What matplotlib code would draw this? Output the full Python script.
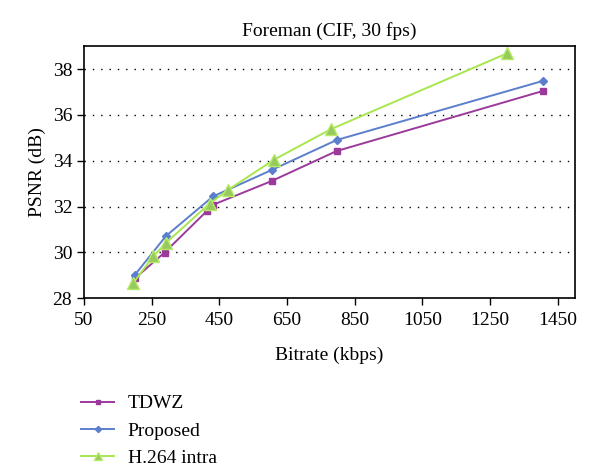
import matplotlib
matplotlib.use("Agg")
from matplotlib import pyplot as plt

# values
tdwz_rate = [200, 288, 412, 432, 604, 796, 1405]
tdwz_psnr = [28.86, 29.99, 31.79, 32.08, 33.11, 34.42, 37.04]

prop_rate = [201, 292, 431, 604, 796, 1405]
prop_psnr = [29.03, 30.71, 32.44, 33.59, 34.90, 37.48]

h264_rate = [196, 255, 293, 421, 475, 612, 780, 1299]
h264_psnr = [28.67, 29.83, 30.42, 32.13, 32.72, 34.05, 35.38, 38.68]

x_ticks = [50, 250, 450, 650, 850, 1050, 1250, 1450]
y_ticks = [28, 30, 32, 34, 36, 38]

plt.rcParams['font.family'] = ['Liberation Serif', 'DejaVu Serif']
plt.rcParams['font.size'] = 14

fig = plt.figure(figsize=(6.0, 4.71), dpi=100)
ax = fig.add_axes([0.14, 0.367, 0.818, 0.535])

l1, = ax.plot(tdwz_rate, tdwz_psnr, color='#9B3A9B', lw=1.4, marker='s', ms=5,
              label='TDWZ')
l2, = ax.plot(prop_rate, prop_psnr, color='#5B7FCC', lw=1.4, marker='D', ms=4.5,
              label='Proposed')
l3, = ax.plot(h264_rate, h264_psnr, color='#A8E64E', lw=1.4, marker='^', ms=9,
              mfc='#98C860', mec='#B4EC64', label='H.264 intra')

ax.set_xlim(50, 1500)
ax.set_ylim(28, 39)
ax.set_xticks(x_ticks)
ax.set_yticks(y_ticks)
ax.yaxis.grid(True, linestyle=(0, (1, 5)), color='black', lw=1.0)
ax.tick_params(direction='out', length=5, width=1, labelsize=14)
ax.tick_params(axis='x', pad=5)
for s in ax.spines.values():
    s.set_linewidth(1.2)

ax.set_title('Foreman (CIF, 30 fps)', fontsize=14, pad=7)
ax.set_xlabel('Bitrate (kbps)', fontsize=14, labelpad=13)
ax.set_ylabel('PSNR (dB)', fontsize=14, labelpad=5)

fig.legend(handles=[l1, l2, l3], loc='upper left', bbox_to_anchor=(0.135, 0.162),
           frameon=False, fontsize=14, handlelength=1.7, handletextpad=0.7,
           labelspacing=0.5, borderaxespad=0, borderpad=0, markerscale=0.7)

fig.savefig('out.png', dpi=100)
